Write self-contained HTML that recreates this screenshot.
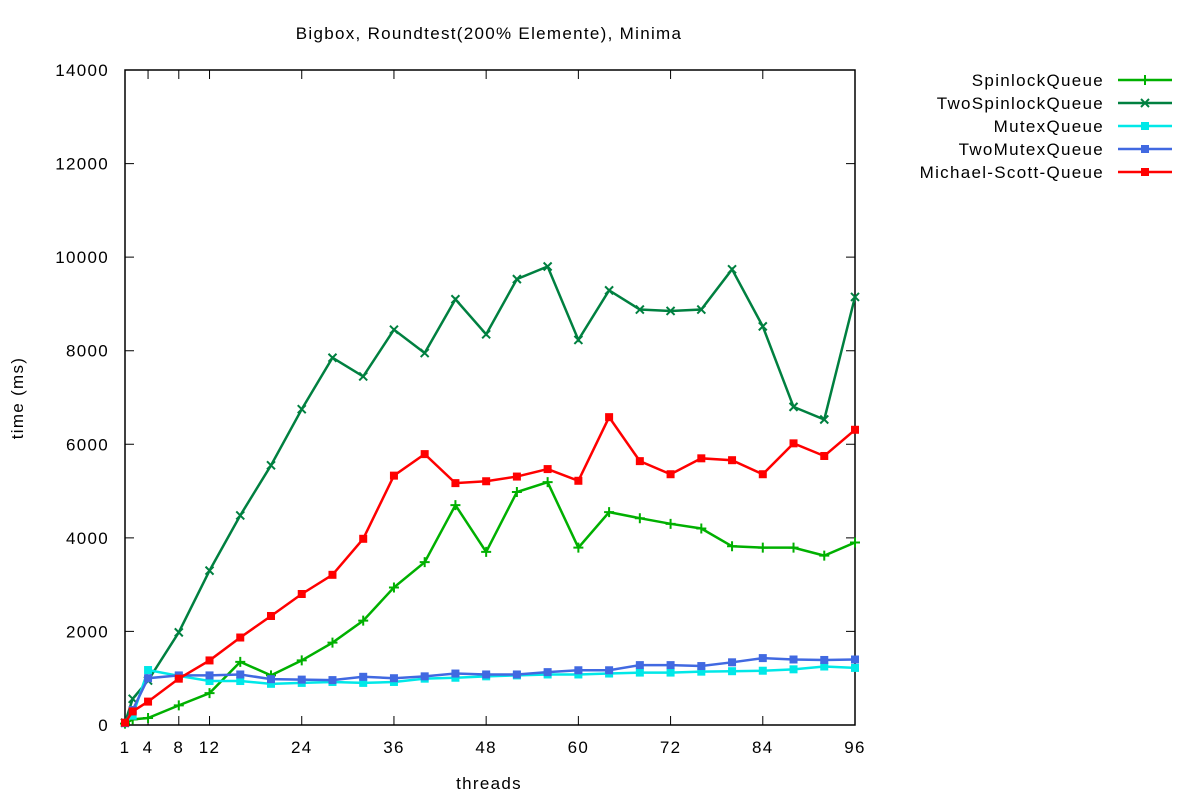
<!DOCTYPE html>
<html><head><meta charset="utf-8"><style>
body{margin:0;background:#fff;font-family:"Liberation Sans",sans-serif}
svg text{font-family:"Liberation Sans",sans-serif;font-size:17px;letter-spacing:1.3px;fill:#000}
</style></head><body>
<svg id="c" width="1200" height="800" xmlns="http://www.w3.org/2000/svg"></svg>
<script>
const xs=[1,2,4,8,12,16,20,24,28,32,36,40,44,48,52,56,60,64,68,72,76,80,84,88,92,96];
const spinlock=[30,120,150,420,680,1350,1060,1380,1760,2230,2940,3480,4700,3700,4980,5190,3790,4550,4420,4300,4200,3820,3790,3790,3620,3900];
const twoSpinlock=[50,560,950,1980,3300,4480,5550,6750,7850,7450,8450,7950,9100,8350,9530,9800,8230,9290,8880,8850,8880,9740,8520,6800,6530,9150];
const mutex=[40,200,1175,1050,940,940,880,900,920,900,920,990,1010,1040,1060,1080,1080,1100,1120,1120,1140,1150,1160,1190,1250,1220];
const twoMutex=[40,320,1000,1060,1060,1080,980,970,960,1030,1000,1040,1100,1080,1080,1130,1170,1170,1280,1280,1260,1340,1430,1400,1390,1400];
const michaelScott=[50,290,500,990,1380,1870,2330,2800,3210,3980,5330,5790,5170,5210,5310,5470,5220,6580,5640,5360,5700,5660,5360,6020,5750,6310];
const xTicks=[1,4,8,12,24,36,48,60,72,84,96];
const yTicks=[0,2000,4000,6000,8000,10000,12000,14000];
const series=[
 {name:"SpinlockQueue",data:spinlock,color:"#00b000",m:"plus",id:"spinlock-queue"},
 {name:"TwoSpinlockQueue",data:twoSpinlock,color:"#008040",m:"x",id:"two-spinlock-queue"},
 {name:"MutexQueue",data:mutex,color:"#00e8e8",m:"sq",id:"mutex-queue"},
 {name:"TwoMutexQueue",data:twoMutex,color:"#4169e1",m:"sq",id:"two-mutex-queue"},
 {name:"Michael-Scott-Queue",data:michaelScott,color:"#ff0000",m:"sq",id:"michael-scott-queue"}];
const L=125,R=855,T=70,B=725;
const X=v=>L+(v-1)*(R-L)/95, Y=v=>B-v*(B-T)/14000;
const svg=document.getElementById('c');const NS="http://www.w3.org/2000/svg";
function el(t,a,p){const e=document.createElementNS(NS,t);for(const k in a)e.setAttribute(k,a[k]);(p||svg).appendChild(e);return e;}
function mark(g,m,x,y,c){
 if(m==="sq"){const r=el('rect',{x:x-4,y:y-4,width:8,height:8,fill:c},g);}
 else if(m==="plus"){const p=el('path',{d:`M${x-5} ${y}H${x+5}M${x} ${y-5}V${y+5}`,stroke:c,'stroke-width':2},g);}
 else {const p=el('path',{d:`M${x-4} ${y-4}L${x+4} ${y+4}M${x-4} ${y+4}L${x+4} ${y-4}`,stroke:c,'stroke-width':2},g);}
}
const t=el('text',{x:489,y:39,'text-anchor':'middle'});t.textContent="Bigbox, Roundtest(200% Elemente), Minima";

const fr=el('rect',{x:L,y:T,width:R-L,height:B-T,fill:'none',stroke:'#000','stroke-width':1.5});

yTicks.forEach(v=>{const y=Y(v);el('path',{d:`M${L} ${y}h9M${R} ${y}h-9`,stroke:'#000'});
 const tx=el('text',{x:L-16,y:y+6,'text-anchor':'end'});tx.textContent=v;
 });
xTicks.forEach(v=>{const x=X(v);el('path',{d:`M${x} ${B}v-9M${x} ${T}v9`,stroke:'#000'});
 const tx=el('text',{x:x,y:B+28,'text-anchor':'middle'});tx.textContent=v;
 });
const xt=el('text',{x:489,y:789,'text-anchor':'middle'});xt.textContent="threads";

const yt=el('text',{x:0,y:0,'text-anchor':'middle',transform:'translate(23,398) rotate(-90)'});yt.textContent="time (ms)";

series.forEach((s,i)=>{
 const g=el('g',{});
 const pl=el('polyline',{points:s.data.map((v,j)=>X(xs[j])+','+Y(v)).join(' '),fill:'none',stroke:s.color,'stroke-width':2.5},g);
 
 s.data.forEach((v,j)=>mark(g,s.m,X(xs[j]),Y(v),s.color));
 const ly=80+i*23;
 const lg=el('g',{});
 const lt=el('text',{x:1104,y:ly+6,'text-anchor':'end'},lg);lt.textContent=s.name;
 el('line',{x1:1118,y1:ly,x2:1172,y2:ly,stroke:s.color,'stroke-width':2.5},lg);
 mark(lg,s.m,1145,ly,s.color);
});
</script>
</body></html>
